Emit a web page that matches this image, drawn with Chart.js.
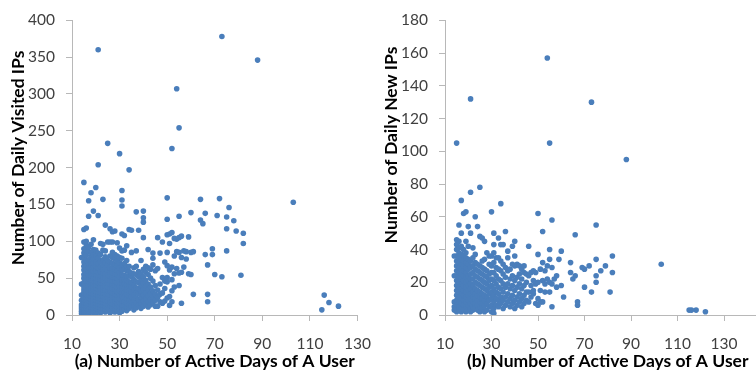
<!DOCTYPE html>
<html>
<head>
<meta charset="utf-8">
<script src="https://cdn.jsdelivr.net/npm/chart.js@4.4.1/dist/chart.umd.min.js"></script>
<style>
  html, body { margin: 0; padding: 0; background: #fff; }
  #wrap { position: relative; width: 756px; height: 375px; overflow: hidden; }
  #chartA { position: absolute; left: 0; top: 0; }
  #chartB { position: absolute; left: 378px; top: 0; }
</style>
</head>
<body>
<div id="wrap">
  <canvas id="chartA" width="385" height="375"></canvas>
  <canvas id="chartB" width="420" height="375"></canvas>
</div>
<script>
// [active days, daily visited IPs] per user, panel (a)
const visitedPoints = [
  [14,2],[14,5],[14,8],[14,11],[14,14],[14,20],[14,27],[14,42],[14,78],
  [15,1],[15,4],[15,7],[15,10],[15,13],[15,17],[15,21],[15,25],[15,30],[15,34],[15,38],[15,44],[15,50],[15,55],[15,61],[15,66],[15,72],[15,77],[15,84],[15,90],[15,99],[15,116],[15,180],
  [16,3],[16,6],[16,9],[16,13],[16,16],[16,20],[16,24],[16,28],[16,33],[16,37],[16,41],[16,46],[16,52],[16,57],[16,63],[16,68],[16,74],[16,81],[16,88],[16,95],[16,100],[16,118],
  [17,2],[17,5],[17,8],[17,12],[17,15],[17,19],[17,23],[17,27],[17,31],[17,36],[17,40],[17,45],[17,49],[17,54],[17,59],[17,64],[17,70],[17,75],[17,86],[17,92],[17,134],[17,155],
  [18,4],[18,7],[18,11],[18,14],[18,18],[18,22],[18,26],[18,30],[18,35],[18,39],[18,43],[18,48],[18,53],[18,58],[18,62],[18,67],[18,73],[18,79],[18,85],[18,96],[18,166],
  [19,3],[19,6],[19,10],[19,14],[19,17],[19,21],[19,25],[19,29],[19,34],[19,38],[19,42],[19,47],[19,51],[19,56],[19,60],[19,65],[19,71],[19,76],[19,82],[19,89],[19,102],[19,141],
  [20,2],[20,5],[20,9],[20,12],[20,16],[20,20],[20,24],[20,28],[20,32],[20,37],[20,41],[20,46],[20,50],[20,55],[20,60],[20,66],[20,72],[20,80],[20,88],[20,173],
  [21,4],[21,7],[21,11],[21,15],[21,19],[21,23],[21,27],[21,31],[21,35],[21,40],[21,44],[21,49],[21,54],[21,58],[21,64],[21,70],[21,77],[21,84],[21,135],[21,204],[21,360],
  [22,3],[22,6],[22,10],[22,14],[22,18],[22,22],[22,26],[22,30],[22,35],[22,39],[22,44],[22,48],[22,53],[22,59],[22,65],[22,73],[22,82],[22,97],
  [23,5],[23,9],[23,13],[23,17],[23,21],[23,25],[23,30],[23,34],[23,38],[23,43],[23,47],[23,52],[23,57],[23,62],[23,68],[23,75],[23,88],[23,96],[23,157],
  [24,4],[24,8],[24,12],[24,16],[24,20],[24,25],[24,29],[24,34],[24,39],[24,44],[24,50],[24,56],[24,63],[24,71],[24,79],[24,87],[24,122],
  [25,6],[25,10],[25,14],[25,19],[25,24],[25,29],[25,33],[25,38],[25,43],[25,48],[25,55],[25,61],[25,68],[25,74],[25,99],[25,233],
  [26,3],[26,8],[26,13],[26,17],[26,22],[26,27],[26,32],[26,37],[26,42],[26,47],[26,53],[26,58],[26,64],[26,72],[26,80],[26,99],[26,117],
  [27,5],[27,10],[27,15],[27,20],[27,25],[27,30],[27,36],[27,41],[27,46],[27,52],[27,57],[27,63],[27,70],[27,78],[27,85],[27,99],[27,113],
  [28,4],[28,9],[28,14],[28,19],[28,24],[28,29],[28,35],[28,40],[28,46],[28,51],[28,56],[28,62],[28,69],[28,76],[28,82],[28,114],
  [29,6],[29,11],[29,16],[29,21],[29,27],[29,32],[29,38],[29,44],[29,50],[29,55],[29,60],[29,67],[29,73],[29,80],[29,98],
  [30,3],[30,7],[30,12],[30,17],[30,22],[30,27],[30,33],[30,39],[30,45],[30,52],[30,58],[30,64],[30,71],[30,78],[30,91],[30,219],
  [31,5],[31,10],[31,14],[31,19],[31,25],[31,31],[31,37],[31,43],[31,48],[31,55],[31,62],[31,68],[31,77],[31,87],[31,110],[31,148],[31,156],[31,169],
  [32,8],[32,13],[32,18],[32,24],[32,30],[32,36],[32,42],[32,48],[32,54],[32,62],[32,70],[32,88],[32,108],
  [33,6],[33,11],[33,16],[33,22],[33,28],[33,34],[33,41],[33,47],[33,53],[33,60],[33,66],[33,74],[33,94],
  [34,9],[34,14],[34,20],[34,26],[34,33],[34,39],[34,45],[34,53],[34,59],[34,66],[34,116],[34,197],
  [35,12],[35,18],[35,25],[35,31],[35,38],[35,44],[35,52],[35,57],[35,85],[35,115],
  [36,7],[36,13],[36,20],[36,27],[36,34],[36,41],[36,48],[36,56],[36,64],
  [37,10],[37,16],[37,23],[37,30],[37,37],[37,45],[37,55],[37,66],[37,87],[37,140],
  [38,14],[38,21],[38,29],[38,36],[38,44],[38,52],[38,59],[38,115],
  [39,9],[39,16],[39,24],[39,32],[39,40],[39,48],[39,56],[39,74],
  [40,12],[40,19],[40,27],[40,35],[40,43],[40,52],[40,62],[40,105],[40,126],[40,132],[40,141],
  [41,15],[41,22],[41,30],[41,39],[41,47],[41,58],[41,66],
  [42,11],[42,18],[42,26],[42,34],[42,42],[42,55],[42,64],[42,89],
  [43,14],[43,21],[43,29],[43,38],[43,50],[43,62],
  [44,17],[44,24],[44,33],[44,46],[44,68],[44,77],[44,84],
  [45,12],[45,20],[45,28],[45,40],[45,60],
  [46,12],[46,24],[46,34],[46,63],[46,105],
  [47,18],[47,28],[47,42],[47,84],
  [48,16],[48,30],[48,51],[48,99],
  [49,19],[49,36],[49,46],[49,72],
  [50,23],[50,45],[50,51],[50,67],[50,85],[50,109],[50,130],[50,159],
  [51,13],[51,25],[51,61],[51,97],[51,110],
  [52,18],[52,33],[52,48],[52,65],[52,112],[52,226],
  [53,38],[53,56],[53,80],[53,104],
  [54,63],[54,86],[54,103],[54,307],
  [55,40],[55,57],[55,85],[55,105],[55,134],[55,254],
  [56,16],[56,58],[56,78],[56,107],
  [57,65],[57,87],[58,76],[58,86],[59,56],[59,106],
  [60,55],[60,85],[60,139],[61,28],[61,86],
  [64,157],[64,129],[65,124],[66,82],[66,138],
  [67,18],[67,28],[67,68],[69,82],[69,90],[70,55],
  [71,135],[72,158],[73,52],[73,378],
  [75,87],[75,117],[75,133],[76,146],[78,128],[79,114],
  [81,54],[82,97],[82,111],[88,346],[103,153],
  [115,7],[116,27],[118,17],[122,12]
];

// [active days, daily new IPs] per user, panel (b)
const newIpPoints = [
  [14,3],[14,5],[14,8],[14,24],[14,36],
  [15,2],[15,4],[15,6],[15,9],[15,12],[15,15],[15,18],[15,21],[15,24],[15,27],[15,30],[15,33],[15,36],[15,40],[15,43],[15,46],[15,105],
  [16,3],[16,5],[16,8],[16,11],[16,14],[16,17],[16,20],[16,23],[16,26],[16,29],[16,32],[16,35],[16,38],[16,41],[16,45],[16,55],
  [17,2],[17,4],[17,7],[17,10],[17,13],[17,16],[17,19],[17,22],[17,25],[17,28],[17,31],[17,34],[17,37],[17,42],[17,50],[17,70],
  [18,3],[18,6],[18,9],[18,12],[18,15],[18,18],[18,21],[18,24],[18,27],[18,30],[18,33],[18,36],[18,40],[18,62],
  [19,2],[19,5],[19,8],[19,11],[19,14],[19,17],[19,20],[19,23],[19,26],[19,29],[19,32],[19,35],[19,38],[19,45],[19,63],
  [20,3],[20,6],[20,9],[20,12],[20,15],[20,18],[20,21],[20,24],[20,28],[20,31],[20,34],[20,42],[20,54],
  [21,2],[21,4],[21,7],[21,10],[21,13],[21,16],[21,19],[21,22],[21,25],[21,29],[21,33],[21,50],[21,75],[21,132],
  [22,3],[22,5],[22,8],[22,11],[22,14],[22,18],[22,22],[22,26],[22,30],[22,35],[22,41],
  [23,4],[23,7],[23,10],[23,13],[23,16],[23,20],[23,24],[23,28],[23,32],[23,37],[23,60],
  [24,3],[24,6],[24,9],[24,12],[24,15],[24,19],[24,23],[24,27],[24,31],[24,54],
  [25,2],[25,5],[25,8],[25,11],[25,14],[25,18],[25,22],[25,26],[25,30],[25,48],[25,78],
  [26,4],[26,7],[26,10],[26,13],[26,17],[26,21],[26,25],[26,29],[26,33],[26,47],
  [27,2],[27,6],[27,9],[27,12],[27,16],[27,20],[27,24],[27,28],[27,34],[27,45],
  [28,3],[28,7],[28,11],[28,15],[28,19],[28,23],[28,27],[28,38],
  [29,5],[29,9],[29,13],[29,17],[29,21],[29,25],[29,31],[29,36],
  [30,2],[30,6],[30,10],[30,14],[30,18],[30,22],[30,26],[30,30],[30,36],[30,63],
  [31,1],[31,4],[31,8],[31,12],[31,16],[31,21],[31,26],[31,32],[31,38],[31,43],[31,50],
  [32,6],[32,10],[32,14],[32,19],[32,24],[32,29],[32,35],
  [33,5],[33,9],[33,13],[33,17],[33,22],[33,28],[33,35],[33,47],
  [34,7],[34,11],[34,16],[34,21],[34,27],[34,33],[34,43],[34,68],
  [35,4],[35,9],[35,14],[35,19],[35,25],[35,31],[35,43],
  [36,6],[36,11],[36,17],[36,23],[36,29],[36,51],
  [37,8],[37,13],[37,19],[37,27],[37,35],[37,39],
  [38,5],[38,10],[38,16],[38,22],[38,28],
  [39,7],[39,12],[39,18],[39,24],[39,31],[39,42],
  [40,4],[40,9],[40,15],[40,21],[40,30],[40,36],[40,45],
  [41,6],[41,11],[41,17],[41,23],[41,31],
  [42,8],[42,13],[42,19],[42,25],[42,30],
  [43,5],[43,10],[43,16],[43,22],[43,28],
  [44,7],[44,12],[44,18],[44,26],[44,30],
  [45,9],[45,14],[45,20],[45,25],
  [46,8],[46,14],[46,24],[46,42],
  [47,11],[47,18],[47,26],
  [48,13],[48,15],[48,21],[48,27],
  [49,7],[49,19],[49,26],
  [50,6],[50,10],[50,20],[50,37],[50,62],
  [51,8],[51,15],[51,28],
  [52,8],[52,21],[52,32],[52,51],
  [53,14],[53,19],[53,27],
  [54,22],[54,30],[54,157],
  [55,14],[55,20],[55,34],[55,40],[55,105],
  [56,5],[56,19],[56,29],[56,58],
  [57,22],[58,17],[58,24],[59,34],[60,18],[60,39],[61,11],
  [64,26],[64,32],[65,22],[66,24],[66,49],[67,6],[67,8],
  [69,29],[70,17],[70,28],[72,30],[73,14],[73,130],
  [75,20],[75,24],[75,34],[75,55],[77,27],[79,30],
  [81,14],[82,26],[82,36],[88,95],[103,31],
  [115,3],[116,3],[118,3],[122,2]
];

const xTicksA = [10, 30, 50, 70, 90, 110, 130];
const xTicksB = [10, 30, 50, 70, 90, 110, 130, 150];
const yStepA = 50, yMaxA = 400;
const yStepB = 20, yMaxB = 180;

const dotColor = '#4a7ebb';
const axisColor = '#b8b8b8';
const tickColor = '#404040';
const fontFamily = 'Lato, "Liberation Sans", sans-serif';

// rotated y axis title, placed like the original
const yTitlePlugin = {
    id: 'yTitle',
    afterDraw(chart, args, opts) {
        const ctx = chart.ctx;
        ctx.save();
        ctx.translate(opts.x, opts.y);
        ctx.rotate(-Math.PI / 2);
        ctx.font = 'bold 17.5px ' + fontFamily;
        ctx.fillStyle = '#000';
        ctx.textAlign = 'center';
        ctx.textBaseline = 'middle';
        ctx.fillText(opts.text, 0, 0);
        ctx.restore();
    }
};

function buildChart(id, points, cfg) {
    new Chart(document.getElementById(id), {
        type: 'scatter',
        data: {
            datasets: [{
                data: points.map(p => ({ x: p[0], y: p[1] })),
                backgroundColor: dotColor,
                borderWidth: 0,
                pointRadius: 2.8,
                pointHoverRadius: 2.8
            }]
        },
        options: {
            responsive: false,
            animation: false,
            layout: { padding: { top: 11, right: cfg.padRight, bottom: 0, left: 0 } },
            plugins: {
                legend: { display: false },
                tooltip: { enabled: false },
                yTitle: { text: cfg.yTitle, x: cfg.yTitleX, y: cfg.yTitleY }
            },
            scales: {
                x: {
                    type: 'linear',
                    min: 10,
                    max: cfg.xTicks[cfg.xTicks.length - 1],
                    afterBuildTicks: s => { s.ticks = cfg.xTicks.map(v => ({ value: v })); },
                    afterFit: s => { s.height = 60; },
                    ticks: { color: tickColor, font: { family: fontFamily, size: 15.5 }, padding: 14, maxRotation: 0 },
                    grid: { drawOnChartArea: false, tickLength: 6, color: axisColor },
                    border: { color: axisColor },
                    title: {
                        display: true,
                        text: cfg.xTitle,
                        color: '#000',
                        font: { family: fontFamily, size: 17.5, weight: 'bold' },
                        padding: { top: 0, bottom: 3 }
                    }
                },
                y: {
                    min: 0,
                    max: cfg.yMax,
                    afterFit: s => { s.width = cfg.yWidth; },
                    ticks: { stepSize: cfg.yStep, color: tickColor, font: { family: fontFamily, size: 15.5 }, padding: 11 },
                    grid: { drawOnChartArea: false, tickLength: 6, color: axisColor },
                    border: { color: axisColor }
                }
            }
        },
        plugins: [yTitlePlugin]
    });
}

buildChart('chartA', visitedPoints, {
    xTicks: xTicksA, yMax: yMaxA, yStep: yStepA, yWidth: 72, padRight: 16,
    xTitle: '(a) Number of Active Days of A User',
    yTitle: 'Number of Daily Visited IPs', yTitleX: 18, yTitleY: 158
});

buildChart('chartB', newIpPoints, {
    xTicks: xTicksB, yMax: yMaxB, yStep: yStepB, yWidth: 67, padRight: 20,
    xTitle: '(b) Number of Active Days of A User',
    yTitle: 'Number of Daily New IPs', yTitleX: 13, yTitleY: 145
});
</script>
</body>
</html>
